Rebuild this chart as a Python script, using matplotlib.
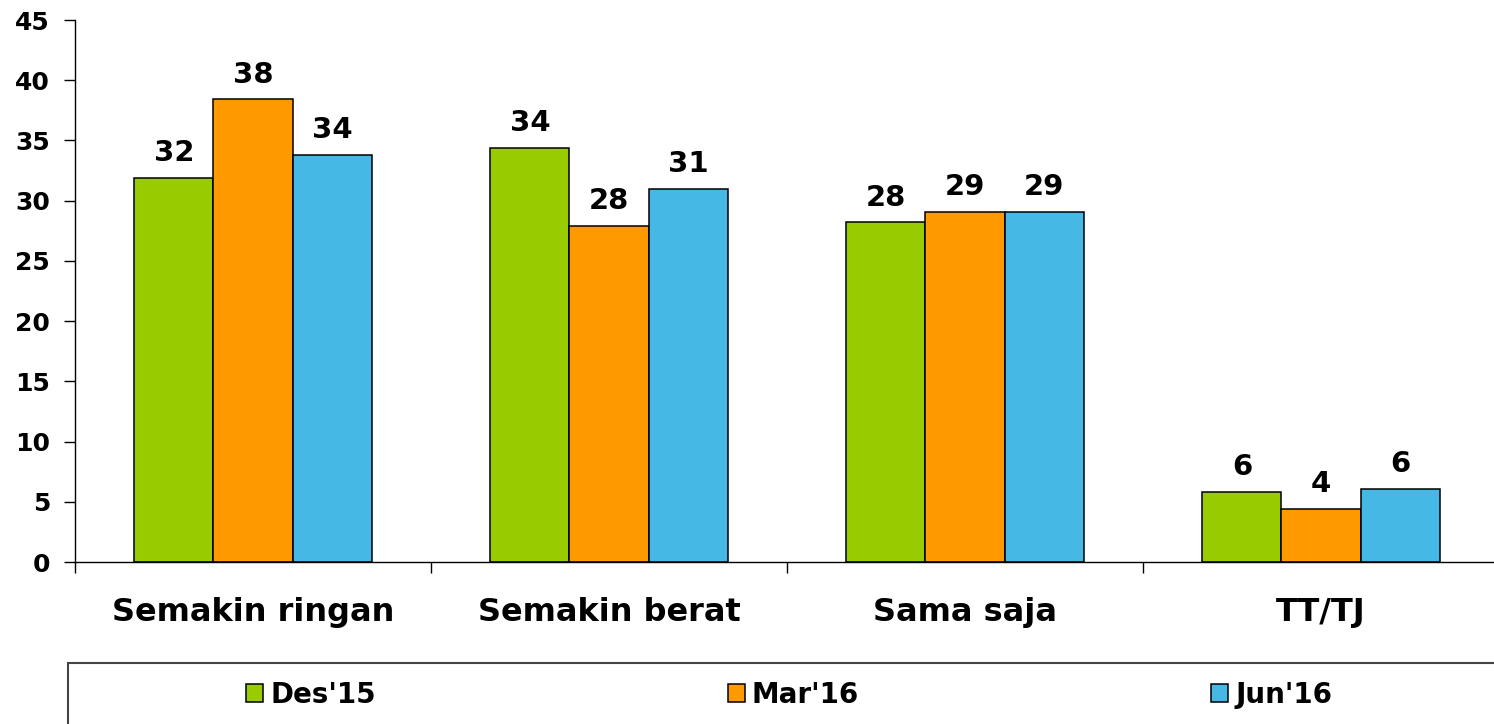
import matplotlib.pyplot as plt
import numpy as np
from matplotlib.patches import Rectangle

categories = ['Semakin ringan', 'Semakin berat', 'Sama saja', 'TT/TJ']
series = ["Des'15", "Mar'16", "Jun'16"]
des15 = [31.9, 34.4, 28.2, 5.8]
mar16 = [38.4, 27.9, 29.1, 4.4]
jun16 = [33.8, 31.0, 29.1, 6.1]
colors = ['#99CC00', '#FF9900', '#45B8E6']

plt.rcParams['font.family'] = 'DejaVu Sans'
plt.rcParams['font.weight'] = 'bold'

fig = plt.figure(figsize=(14.94, 7.24), dpi=100)
ax = fig.add_axes([75 / 1494, 162 / 724, 1419 / 1494, 542 / 724])

x = np.arange(len(categories))
w = 0.222
for i, (vals, name) in enumerate(zip([des15, mar16, jun16], series)):
    bars = ax.bar(x + (i - 1) * w, vals, w, color=colors[i], edgecolor='black',
                  linewidth=1.1, label=name, zorder=2)
    for b, v in zip(bars, vals):
        ax.text(b.get_x() + b.get_width() / 2, v + 0.9, f'{v:.0f}',
                ha='center', va='bottom', fontsize=21, fontweight='bold')

ax.set_ylim(0, 45)
ax.set_yticks(range(0, 46, 5))
ax.set_xlim(-0.5, 3.486)
ax.set_xticks(x)
ax.set_xticklabels(categories, fontsize=23, fontweight='bold')
ax.set_xticks(np.arange(-0.5, 3.0, 1.0), minor=True)
ax.tick_params(axis='x', which='major', length=0, pad=25)
ax.tick_params(axis='x', which='minor', length=8, width=1, direction='out')
ax.tick_params(axis='y', labelsize=18, length=8, width=1, pad=10)
for lab in ax.get_yticklabels():
    lab.set_fontweight('bold')
for s in ['top', 'right']:
    ax.spines[s].set_visible(False)
ax.spines['left'].set_linewidth(1)
ax.spines['bottom'].set_linewidth(1)

# legend box (runs off the canvas at right and bottom)
fig.patches.append(Rectangle((68 / 1494, -0.05), 1.0, (724 - 663) / 724 + 0.05,
                             transform=fig.transFigure, fill=False,
                             edgecolor='#444444', linewidth=1.5))
fig.legend(loc='center', bbox_to_anchor=(221 / 1494, 9 / 724, 1136 / 1494, 40 / 724),
           mode='expand', ncol=3, frameon=False,
           handlelength=0.62, handleheight=0.62, handletextpad=0.25,
           prop={'weight': 'bold', 'size': 20})

fig.savefig('out.png', dpi=100)
